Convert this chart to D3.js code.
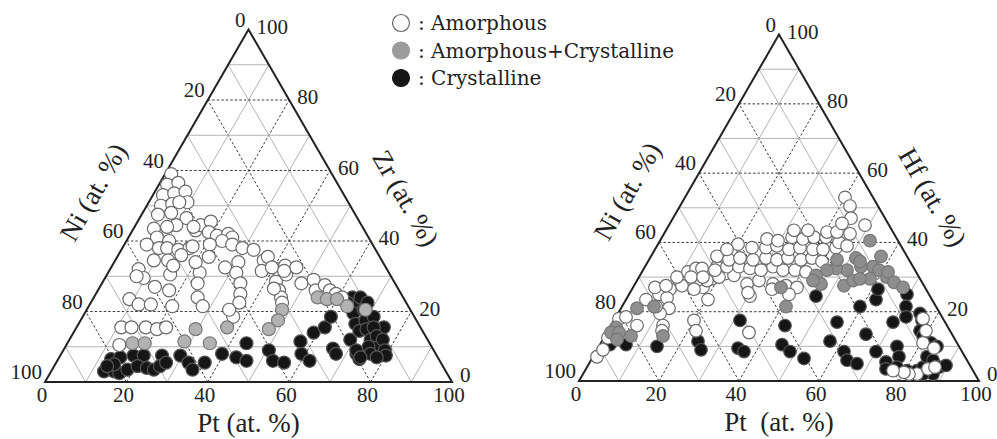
<!DOCTYPE html>
<html>
<head>
<meta charset="utf-8">
<script src="https://cdn.jsdelivr.net/npm/d3@7"></script>
<style>
body { margin: 0; background: #fff; }
svg { display: block; }
</style>
</head>
<body>
<svg width="997" height="439"></svg>
<script>
// compositions, [Pt, M] in at.% (M = Zr or Hf, Ni = 100 - Pt - M)
var zrAmorphous = [
  [1.5,59],[2,56],[4.5,56.5],[2.5,53],[5,53.5],[7.5,54],[9.5,51],[3.5,50],[6,50.5],[7.5,51],
  [4,47.5],[7,48],[11.5,46.5],[10,44.5],[5,43.5],[8,44],[7,41],[10.5,40],[5.5,39],[9,38],
  [11,38],[14,37.5],[16.5,38],[9.5,34.5],[13,34.5],[15.5,36],[17,38.5],[7,32],[9.5,29.5],[15.5,30.5],
  [13.5,27],[17.5,26],[9,23.5],[12,22],[15,22],[15.5,43],[16,44.5],[18,45.5],[19,42.5],[21.5,41.5],
  [24,42],[25.5,41],[23.5,40],[21,39],[26.5,39],[29.5,38],[32.5,37.5],[22.5,35.5],[28,32.5],[30.5,34],
  [31.5,31],[34,28],[35.5,25],[36.5,22.5],[22.5,31],[23.5,28],[25.5,24],[28,21.5],[20.5,21.5],[36.5,34.5],
  [37,35.5],[37.5,31.5],[42.5,28.5],[41,32],[42.5,33],[44,30.5],[45.5,32.5],[49,28],[51.5,29],[44.5,26],
  [46,24],[47,22.5],[11,15.5],[13.5,15.5],[17,15.5],[20,15],[13,10.5],[22,15.5],[7.5,30],[15,33],
  [20,34],[37,18.5],[14.5,44],[35,20.5],[39.5,32.5],[43,31.5],[53.5,26],[55,27.5],[57,26],[59,25],
  [61,24],[43,26.5]
];
var zrMixed = [
  [16,11],[19,11],[28.5,11.5],[29.5,15],[35,11],[37,15.5],[55,24],[57.5,23.5],[60,23.5],[63.5,21.5],
  [68.5,20.5],[48,20.5],[48.5,17.5],[47.5,15]
];
var zrCrystalline = [
  [13,6.5],[15,7],[18,7.5],[20.5,7.5],[25,7.5],[29.5,7.5],[13,3],[15.5,3],[17,2.5],[18.5,3.5],
  [20.5,4.5],[23,4],[25,3.5],[26,4.5],[27,5.5],[14.5,5],[13,4.5],[32.5,5.5],[34.5,3.5],[36.5,5.5],
  [39.5,8],[43.5,7],[46.5,6],[44,11],[50.5,9],[53,6],[56,5.5],[57,11.5],[59,8],[62,6],
  [59,14],[61,15.5],[61,18.5],[66,9.5],[67.5,8],[69,12],[72.5,8],[74,6.5],[75.5,15.5],[63.5,24],
  [65.5,22.5],[66,19.5],[68,16.5],[70,14.5],[68,20.5],[70,17.5],[71.5,15],[74,12],[71.5,18.5],[73,15.5],
  [75,13],[77,10],[77,12],[79,9],[80,7.5],[74.5,10],[76,8],[78,7],[63,22.5],[65.5,24],
  [68,22.5],[72,9],[74,7]
];

var hfAmorphous = [
  [1,7],[1.5,9],[1,12.5],[1,18],[2.5,18.5],[6.5,16],[5,23.5],[7.5,25],[9.5,26.5],[10,24],
  [12,21],[10.5,19.5],[13,16],[13.5,14.5],[5.5,27],[8,27.5],[12,27.5],[20,17.5],[22,14.5],[9.5,30],
  [11.5,31.5],[13,32.5],[17.5,27],[20.5,23.5],[18.5,29.5],[18,33],[21,31],[16.5,36],[19.5,37],[20,39.5],
  [30.5,24.5],[35.5,14],[15,29],[17.5,29],[20,30],[23.5,30.5],[28,28],[30.5,29],[34.5,28],[38,27.5],
  [41,27],[14.5,32.5],[18,32],[20.5,33],[23.5,33],[26.5,32.5],[29.5,32],[32,33],[35,32],[38,32],
  [41,31.5],[20,35],[22.5,35.5],[26,35],[29,35.5],[32,35],[34.5,35.5],[38,35],[40.5,35.5],[43.5,34.5],
  [18,38],[24,38.5],[27.5,38.5],[30,39],[33.5,38],[36,38.5],[39.5,38],[42,38],[45,38.5],[26.5,41],
  [29.5,40.5],[32.5,41.5],[35.5,41],[38,41.5],[41,41.5],[45,40],[47.5,39],[32,43.5],[35.5,43.5],[40.5,43],
  [43,43],[46.5,42.5],[40,53],[42.5,50.5],[44.5,47],[43,45.5],[49,45],[29.5,25.5],[35,26.5],[40,25],
  [8.5,21.5],[13,30],[16,30],[15.5,26.5],[77,18],[79.5,14.5],[83.5,2],[81.5,2],[80,2.5],[77,3],
  [85.5,3.5],[87,4],[80.5,11],[84,9.5]
];
var hfMixed = [
  [1.5,15.5],[1,14],[3,14],[3.5,12],[6.5,13],[4,21],[8,21.5],[14.5,13],[52.5,40.5],[57.5,36],
  [57,33],[54,33],[51,32],[48,32.5],[46,32],[44,30.5],[46.5,28],[52.5,27.5],[54,29],[58,29.5],
  [59,32],[62,30],[51.5,35.5],[47,35],[44,29],[41,21.5],[37,27],[53,34.5],[55.5,29.5],[61.5,31.5],
  [64.5,28.5],[67.5,27]
];
var hfCrystalline = [
  [2.5,10.5],[6.5,10.5],[14.5,10],[24,11.5],[26,9],[31.5,17.5],[35,9.5],[37,8.5],[43.5,16],[47,24.5],
  [56,17],[59.5,21.5],[62.5,23.5],[61.5,26.5],[69.5,25],[71,21.5],[72.5,18.5],[75.5,19.5],[77,17.5],[78,14.5],
  [79.5,13],[82.5,11],[84.5,10],[70,17],[65,13.5],[57,11.5],[45.5,10.5],[48.5,8.5],[53,6.5],[62,8.5],
  [64,6],[67,5],[70,8.5],[74.5,10],[76.5,7],[74,5.5],[75,3.5],[77.5,4],[80.5,3],[83,3],
  [84,4],[83.5,7],[85.5,6],[88,4],[89.5,4.5],[87.5,2],[85,2]
];

var tickValues = [0, 20, 40, 60, 80, 100];
var gridSteps = d3.range(10, 100, 10);
var legendLabels = ["Amorphous", "Amorphous+Crystalline", "Crystalline"];

var svg = d3.select("svg");

var panels = [
  { left: 45, right: 452, base: 382, metal: "Zr", ptTitle: "Pt (at. %)", grayFill: "#b2b2b2", r: 6.5,
    sets: [zrCrystalline, zrAmorphous, zrMixed] },
  { left: 579, right: 979, base: 381, metal: "Hf", ptTitle: "Pt  (at. %)", grayFill: "#8e8e8e", r: 6.3,
    sets: [hfCrystalline, hfAmorphous, hfMixed] }
];

function drawPanel(p) {
  var h = (p.right - p.left) * Math.sqrt(3) / 2;
  var x = d3.scaleLinear().domain([0, 100]).range([p.left, p.right]);
  var y = d3.scaleLinear().domain([0, 100]).range([p.base, p.base - h]);
  function pos(pt, m) { return [x(pt + m / 2), y(m)]; }

  var g = svg.append("g");

  // grid: lines of constant M, Pt and Ni every 10 %
  var lines = [];
  gridSteps.forEach(function(v) {
    lines.push({ v: v, a: pos(0, v), b: pos(100 - v, v) });
    lines.push({ v: v, a: pos(v, 0), b: pos(v, 100 - v) });
    lines.push({ v: v, a: pos(100 - v, 0), b: pos(0, 100 - v) });
  });
  g.selectAll("line.grid")
    .data(lines)
    .join("line")
      .attr("class", "grid")
      .attr("x1", function(d) { return d.a[0]; })
      .attr("y1", function(d) { return d.a[1]; })
      .attr("x2", function(d) { return d.b[0]; })
      .attr("y2", function(d) { return d.b[1]; })
      .attr("stroke", function(d) { return d.v % 20 ? "#b4b4b4" : "#3a3a3a"; })
      .attr("stroke-width", 1)
      .attr("stroke-dasharray", function(d) { return d.v % 20 ? null : "2.5,2"; });

  g.append("path")
    .attr("d", d3.line()([pos(0, 0), pos(100, 0), pos(0, 100)]) + "Z")
    .attr("fill", "none")
    .attr("stroke", "#222")
    .attr("stroke-width", 2)
    .attr("stroke-linejoin", "miter");

  // points: crystalline, amorphous, mixed
  var styles = [
    { fill: "#161616", stroke: "#555" },
    { fill: "#fff", stroke: "#6a6a6a" },
    { fill: p.grayFill, stroke: "#777" }
  ];
  p.sets.forEach(function(set, i) {
    g.append("g").selectAll("circle")
      .data(set)
      .join("circle")
        .attr("cx", function(d) { return pos(d[0], d[1])[0]; })
        .attr("cy", function(d) { return pos(d[0], d[1])[1]; })
        .attr("r", p.r)
        .attr("fill", styles[i].fill)
        .attr("stroke", styles[i].stroke)
        .attr("stroke-width", 1.2);
  });

  var font = "'Liberation Serif', 'Times New Roman', serif";

  // Ni ticks on the left edge
  g.append("g").selectAll("text")
    .data(tickValues)
    .join("text")
      .attr("x", function(t) { return pos(0, 100 - t)[0] - 3; })
      .attr("y", function(t) { return pos(0, 100 - t)[1] - 3; })
      .attr("text-anchor", "end")
      .style("font", "21px " + font)
      .attr("fill", "#222")
      .text(function(t) { return t; });

  // M ticks on the right edge
  g.append("g").selectAll("text")
    .data(tickValues)
    .join("text")
      .attr("x", function(t) { return pos(100 - t, t)[0] + 8; })
      .attr("y", function(t) { return pos(100 - t, t)[1] + (t ? 4 : 0); })
      .attr("text-anchor", "start")
      .style("font", "21px " + font)
      .attr("fill", "#222")
      .text(function(t) { return t; });

  // Pt ticks along the base
  g.append("g").selectAll("text")
    .data(tickValues)
    .join("text")
      .attr("x", function(t) { return pos(t, 0)[0] - 3; })
      .attr("y", p.base + 20)
      .attr("text-anchor", "middle")
      .style("font", "21px " + font)
      .attr("fill", "#222")
      .text(function(t) { return t; });

  // axis titles
  g.append("text")
    .attr("transform", "translate(" + (p.left + 48) + "," + (p.base - 190) + ") rotate(-60)")
    .attr("text-anchor", "middle")
    .attr("dy", "0.35em")
    .style("font", "27px " + font)
    .attr("fill", "#222")
    .text("Ni (at. %)");

  g.append("text")
    .attr("transform", "translate(" + (p.right - 46) + "," + (p.base - 184) + ") rotate(60)")
    .attr("text-anchor", "middle")
    .attr("dy", "0.35em")
    .style("font", "27px " + font)
    .attr("fill", "#222")
    .text(p.metal + " (at. %)");

  g.append("text")
    .attr("x", (p.left + p.right) / 2)
    .attr("y", p.base + 50)
    .attr("text-anchor", "middle")
    .style("font", "27px " + font)
    .style("white-space", "pre")
    .attr("fill", "#222")
    .text(p.ptTitle);
}

panels.forEach(drawPanel);

// legend
var legendStyles = [
  { fill: "#fff", stroke: "#666" },
  { fill: "#9c9c9c", stroke: "#9c9c9c" },
  { fill: "#161616", stroke: "#161616" }
];
var legend = svg.append("g")
  .selectAll("g")
  .data(legendLabels)
  .join("g")
    .attr("transform", function(d, i) { return "translate(401," + (23 + i * 27.5) + ")"; });

legend.append("circle")
  .attr("r", 8.5)
  .attr("fill", function(d, i) { return legendStyles[i].fill; })
  .attr("stroke", function(d, i) { return legendStyles[i].stroke; })
  .attr("stroke-width", 1.2);

legend.append("text")
  .attr("x", 17)
  .attr("y", 7)
  .style("font", "20px 'DejaVu Serif', serif")
  .attr("fill", "#222")
  .text(function(d) { return ": " + d; });
</script>
</body>
</html>
